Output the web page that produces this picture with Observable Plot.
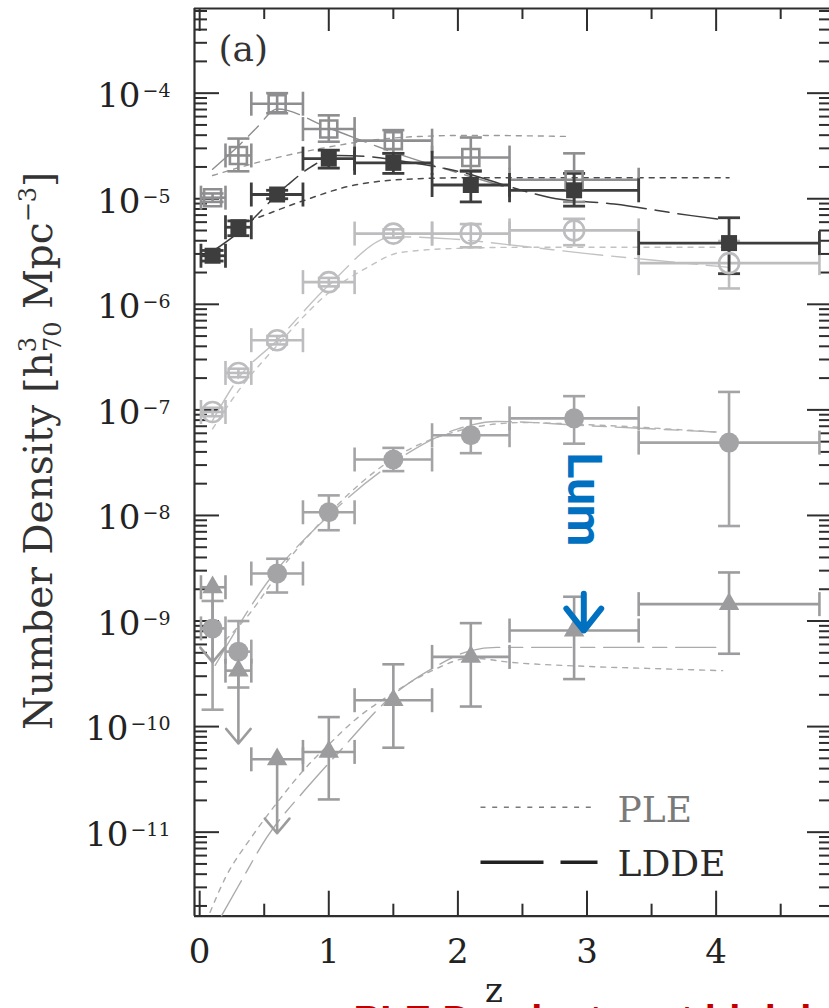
<!DOCTYPE html>
<html><head><meta charset="utf-8">
<script src="https://cdn.jsdelivr.net/npm/d3@7"></script>
<script src="https://cdn.jsdelivr.net/npm/@observablehq/plot@0.6"></script>
<style>
html,body{margin:0;padding:0;background:#fff;overflow:hidden;}
</style></head><body><div id="chart"></div>
<script>
// ===== DATA (y values stored as log10 of number density, h70^3 Mpc^-3) =====
const zCenters = [0.1, 0.3, 0.6, 1.0, 1.5, 2.1, 2.9, 4.1];
const zBinLo   = [0.01, 0.2, 0.4, 0.8, 1.2, 1.8, 2.4, 3.4];
const zBinHi   = [0.2, 0.4, 0.8, 1.2, 1.8, 2.4, 3.4, 4.8];

// dark filled squares (highest luminosity bin)
const darkSq   = [-5.54, -5.27, -4.96, -4.62, -4.66, -4.87, -4.92, -5.42];
const darkSqHi = [-5.49, -5.21, -4.92, -4.54, -4.57, -4.74, -4.76, -5.18];
const darkSqLo = [-5.59, -5.35, -5.00, -4.71, -4.76, -5.03, -5.07, -5.71];
// grey open squares
const openSq   = [-4.99, -4.59, -4.10, -4.34, -4.45, -4.61, -4.82];
const openSqHi = [-4.95, -4.43, -4.00, -4.21, -4.35, -4.42, -4.57];
const openSqLo = [-5.03, -4.74, -4.19, -4.46, -4.57, -4.73, -5.03];
// light open circles
const openCirc   = [-7.02, -6.65, -6.34, -5.79, -5.33, -5.33, -5.30, -5.61];
const openCircHi = [-6.98, -6.61, -6.30, -5.75, -5.29, -5.24, -5.19, -5.40];
const openCircLo = [-7.06, -6.69, -6.38, -5.83, -5.37, -5.46, -5.44, -5.85];
// grey filled circles
const fillCirc   = [-9.07, -9.29, -8.55, -7.97, -7.47, -7.24, -7.08, -7.31];
const fillCircHi = [-8.81, -9.00, -8.41, -7.81, -7.36, -7.08, -6.87, -6.83];
const fillCircLo = [-9.84, -9.63, -8.73, -8.14, -7.58, -7.41, -7.32, -8.10];
// grey filled triangles (first three are upper limits)
const tri   = [-8.68, -9.47, -10.31, -10.24, -9.75, -9.34, -9.09, -8.84];
const triHi = [null, null, null, -9.91, -9.41, -9.02, -8.77, -8.54];
const triLo = [null, null, null, -10.69, -10.20, -9.81, -9.55, -9.31];
const triLimitTip = [-9.39, -10.16, -11.01];

// model curves: PLE (dotted) and LDDE (long dashed)
const darkPleZ = [0.3, 0.45, 0.8, 1.2, 1.7, 2.1, 3.0, 4.1];
const darkPle  = [-5.25, -5.18, -5.02, -4.87, -4.81, -4.80, -4.80, -4.80];
const darkLddeZ = [0.11, 0.29, 0.68, 0.86, 1.07, 1.3, 1.55, 1.8, 2.07, 2.41, 2.72, 3.21, 3.81, 4.07];
const darkLdde  = [-5.49, -5.33, -4.87, -4.70, -4.59, -4.60, -4.64, -4.69, -4.76, -4.89, -4.99, -5.05, -5.16, -5.20];
const sqPleZ = [0.1, 0.5, 1.0, 1.3, 1.7, 2.1, 2.85];
const sqPle  = [-4.78, -4.64, -4.51, -4.45, -4.41, -4.40, -4.41];
const sqLddeZ = [0.1, 0.3, 0.44, 0.6, 1.0, 1.5, 2.07, 2.4];
const sqLdde  = [-4.72, -4.50, -4.33, -4.15, -4.33, -4.56, -4.78, -4.90];
const ocPleZ = [0.1, 0.3, 0.6, 1.0, 1.3, 1.55, 2.0, 2.5, 3.0, 4.05];
const ocPle  = [-7.18, -6.82, -6.39, -5.89, -5.65, -5.51, -5.47, -5.46, -5.46, -5.46];
const ocLddeZ = [0.1, 0.3, 0.6, 1.0, 1.5, 1.94, 2.5, 3.0, 3.5, 4.1];
const ocLdde  = [-7.10, -6.70, -6.34, -5.82, -5.36, -5.38, -5.45, -5.52, -5.58, -5.65];
const fcPleZ = [0.2, 0.36, 0.68, 1.01, 1.5, 2.0, 2.5, 3.0, 4.0];
const fcPle  = [-9.18, -8.97, -8.43, -7.97, -7.46, -7.20, -7.12, -7.14, -7.21];
const fcLddeZ = [0.12, 0.52, 1.0, 1.5, 2.0, 2.3, 3.0, 4.0];
const fcLdde  = [-9.42, -8.64, -8.00, -7.50, -7.18, -7.11, -7.15, -7.21];
const triPleZ = [0.08, 0.2, 0.4, 0.6, 0.8, 1.0, 1.2, 1.5, 1.8, 2.1, 2.4, 3.0, 3.5, 4.05];
const triPle  = [-11.76, -11.43, -11.05, -10.72, -10.42, -10.17, -9.94, -9.68, -9.47, -9.35, -9.39, -9.43, -9.45, -9.47];
const triLddeZ = [0.17, 0.3, 0.52, 0.83, 1.11, 1.48, 1.8, 2.1, 2.3, 3.0, 4.0];
const triLdde  = [-11.79, -11.51, -11.05, -10.58, -10.20, -9.72, -9.45, -9.28, -9.25, -9.25, -9.25];

// axis ticks
const xMajor = [0, 1, 2, 3, 4];
const xMinor = [0.5, 1.5, 2.5, 3.5, 4.5];
const yDecades = [-11, -10, -9, -8, -7, -6, -5, -4];
const xDomain = [-0.04, 4.878];
const yLogDomain = [-11.796, -3.198];

// annotation
const lumArrow = [{z: 2.975, from: -8.24, to: -9.09}];
const redNote = "PLE Dominates at high luminosity";

// ===== BUILD =====
const W = 829, H = 1008, ML = 194, MR = 0, MT = 8, MB = 92.3;
const PW = W - ML - MR, PH = H - MT - MB;
const yDomain = yLogDomain.map(v => 10 ** v);
const yMajor = yDecades.map(d => 10 ** d);
const yMinor = [];
for (let d = -12; d <= -4; d++) for (let k = 2; k <= 9; k++) {
  const v = k * 10 ** d; if (v > yDomain[0] && v < yDomain[1]) yMinor.push(v);
}

const vcap = {draw(ctx, size){ const h = Math.sqrt(size); ctx.moveTo(0, -h/2); ctx.lineTo(0, h/2); }};
const hcap = {draw(ctx, size){ const w = Math.sqrt(size); ctx.moveTo(-w/2, 0); ctx.lineTo(w/2, 0); }};
const hline = {draw(ctx, size){ const w = Math.sqrt(size); ctx.moveTo(-w/2, 0); ctx.lineTo(w/2, 0); }};
const rFor = px => px / Math.sqrt(Math.PI);

function rows(vals, hi, lo) {
  return vals.map((v, i) => ({
    z: zCenters[i], xlo: zBinLo[i], xhi: zBinHi[i], v: 10 ** v,
    hi: hi[i] == null ? null : 10 ** hi[i], lo: lo[i] == null ? null : 10 ** lo[i]
  }));
}
function curve(zs, vs) { return zs.map((z, i) => ({z, v: 10 ** vs[i]})); }

const series = [
  {data: rows(openSq, openSqHi, openSqLo), color: "#8e8e90", symbol: "square", r: rFor(17), fill: "none", sw: 2.6},
  {data: rows(openCirc, openCircHi, openCircLo), color: "#bdbdbf", symbol: "circle", r: 10, fill: "none", sw: 2.6},
  {data: rows(fillCirc, fillCircHi, fillCircLo), color: "#a4a4a6", symbol: "circle", r: 10, fill: "#a4a4a6", sw: 2.6},
  {data: rows(tri, triHi, triLo), color: "#9c9c9e", symbol: "triangle", r: 7.6, fill: "#9c9c9e", sw: 2.6},
  {data: rows(darkSq, darkSqHi, darkSqLo), color: "#3d3d3d", symbol: "square", r: rFor(16), fill: "#3d3d3d", sw: 2.8}
];

const PLE_DASH = "5,6";
const LDDE_DASH = "40,9,14,9";
const curves = [
  {d: curve(sqPleZ, sqPle), c: "#9a9a9a", dash: PLE_DASH, w: 1.4},
  {d: curve(sqLddeZ, sqLdde), c: "#8e8e8e", dash: LDDE_DASH, w: 1.4},
  {d: curve(darkPleZ, darkPle), c: "#4a4a4a", dash: PLE_DASH, w: 1.5},
  {d: curve(darkLddeZ, darkLdde), c: "#3d3d3d", dash: LDDE_DASH, w: 1.5},
  {d: curve(ocPleZ, ocPle), c: "#c2c2c2", dash: PLE_DASH, w: 1.4},
  {d: curve(ocLddeZ, ocLdde), c: "#c2c2c2", dash: LDDE_DASH, w: 1.4},
  {d: curve(fcPleZ, fcPle), c: "#b2b2b2", dash: PLE_DASH, w: 1.4},
  {d: curve(fcLddeZ, fcLdde), c: "#b2b2b2", dash: LDDE_DASH, w: 1.4},
  {d: curve(triPleZ, triPle), c: "#ababab", dash: PLE_DASH, w: 1.4},
  {d: curve(triLddeZ, triLdde), c: "#ababab", dash: LDDE_DASH, w: 1.4}
];

const marks = [];
// frame (left, top, bottom)
const AX = "#2e2e2e";
marks.push(Plot.ruleX([xDomain[0]], {stroke: AX, strokeWidth: 2.2}));
marks.push(Plot.ruleY([yDomain[0], yDomain[1]], {stroke: AX, strokeWidth: 2.2}));
// inward ticks
marks.push(Plot.tickY(yMajor, {y: d => d, insetRight: PW - 25, stroke: AX, strokeWidth: 2}));
marks.push(Plot.tickY(yMinor, {y: d => d, insetRight: PW - 13, stroke: AX, strokeWidth: 2}));
marks.push(Plot.tickY(yMajor, {y: d => d, insetLeft: PW - 22, stroke: AX, strokeWidth: 2}));
marks.push(Plot.tickY(yMinor, {y: d => d, insetLeft: PW - 10, stroke: AX, strokeWidth: 2}));
marks.push(Plot.tickX(xMajor, {x: d => d, insetTop: PH - 25, stroke: AX, strokeWidth: 2}));
marks.push(Plot.tickX(xMinor, {x: d => d, insetTop: PH - 12, stroke: AX, strokeWidth: 2}));
marks.push(Plot.tickX(xMajor, {x: d => d, insetBottom: PH - 23, stroke: AX, strokeWidth: 2}));
marks.push(Plot.tickX(xMinor, {x: d => d, insetBottom: PH - 11, stroke: AX, strokeWidth: 2}));
// axes labels
marks.push(Plot.axisY({ticks: yMajor, anchor: "left", tickSize: 0, tickPadding: 24, label: null,
  tickFormat: d => "10^" + Math.round(Math.log10(d)), fontSize: 34, fontFamily: "DejaVu Serif", fill: "#222", dy: 3}));
marks.push(Plot.axisX({ticks: xMajor, anchor: "bottom", tickSize: 0, tickPadding: 23, label: null,
  tickFormat: d => String(d), fontSize: 34, fontFamily: "DejaVu Serif", fill: "#222"}));

// model curves
for (const c of curves) marks.push(Plot.line(c.d, {x: "z", y: "v", stroke: c.c, strokeWidth: c.w, strokeDasharray: c.dash, curve: "monotone-x"}));

// error bars
for (const s of series) {
  const withY = s.data.filter(d => d.hi != null);
  const o = {stroke: s.color, strokeWidth: s.sw};
  marks.push(Plot.ruleY(s.data, {y: "v", x1: "xlo", x2: "xhi", ...o}));
  marks.push(Plot.ruleX(withY, {x: "z", y1: "lo", y2: "hi", ...o}));
  marks.push(Plot.dot(s.data, {x: "xlo", y: "v", symbol: vcap, r: rFor(24), fill: "none", ...o}));
  marks.push(Plot.dot(s.data, {x: "xhi", y: "v", symbol: vcap, r: rFor(24), fill: "none", ...o}));
  marks.push(Plot.dot(withY, {x: "z", y: "hi", symbol: hcap, r: rFor(22), fill: "none", ...o}));
  marks.push(Plot.dot(withY, {x: "z", y: "lo", symbol: hcap, r: rFor(22), fill: "none", ...o}));
}
// upper-limit arrows on triangles
const triLimits = triLimitTip.map((t, i) => ({z: zCenters[i], from: 10 ** tri[i], to: 10 ** t}));
marks.push(Plot.arrow(triLimits, {x1: "z", x2: "z", y1: "from", y2: "to", stroke: "#9c9c9e", strokeWidth: 2.6, headAngle: 80, headLength: 11}));
// markers
for (const s of series) {
  marks.push(Plot.dot(s.data, {x: "z", y: "v", symbol: s.symbol, r: s.r, fill: s.fill,
    stroke: s.fill === "none" ? s.color : "none", strokeWidth: s.fill === "none" ? 2.6 : 0}));
}

// panel label
marks.push(Plot.text(["(a)"], {frameAnchor: "top-left", dx: 24, dy: 52, text: d => d, textAnchor: "start", lineAnchor: "bottom",
  fontSize: 36, fontFamily: "DejaVu Serif", fill: "#333"}));
// legend
marks.push(Plot.dot(["PLE"], {frameAnchor: "top-left", dx: 344.5, dy: 798.7, symbol: hline, r: rFor(117), fill: "none",
  stroke: "#7a7a7a", strokeWidth: 1.5, strokeDasharray: "5,6.7"}));
marks.push(Plot.dot(["LDDE"], {frameAnchor: "top-left", dx: 344.5, dy: 853.7, symbol: hline, r: rFor(117), fill: "none",
  stroke: "#222", strokeWidth: 3.5, strokeDasharray: "63,17,37,200"}));
marks.push(Plot.text(["PLE"], {frameAnchor: "top-left", dx: 423, dy: 813, text: d => d, textAnchor: "start", lineAnchor: "bottom",
  fontSize: 36, fontFamily: "DejaVu Serif", fill: "#7a7a7a"}));
marks.push(Plot.text(["LDDE"], {frameAnchor: "top-left", dx: 423, dy: 867, text: d => d, textAnchor: "start", lineAnchor: "bottom",
  fontSize: 36, fontFamily: "DejaVu Serif", fill: "#2a2a2a"}));
// x label
marks.push(Plot.text(["z"], {frameAnchor: "bottom-left", dx: 299.5, dy: 86, text: d => d, textAnchor: "middle", lineAnchor: "bottom",
  fontSize: 34, fontFamily: "DejaVu Serif", fill: "#222"}));
// blue annotation
marks.push(Plot.text(["Lum"], {frameAnchor: "top-left", dx: 373, dy: 444, text: d => d, rotate: 90, textAnchor: "start", lineAnchor: "bottom",
  fontSize: 48, fontFamily: "Roboto", fontWeight: "bold", fill: "#0070c0"}));
marks.push(Plot.arrow(lumArrow, {x1: "z", x2: "z", y1: d => 10 ** d.from, y2: d => 10 ** d.to, stroke: "#0070c0", strokeWidth: 6,
  headAngle: 77, headLength: 7, insetStart: 53}));
// red caption (cut off at bottom)
marks.push(Plot.text([redNote], {frameAnchor: "bottom-left", dx: 159, dy: 89, text: d => d, textAnchor: "start", lineAnchor: "top",
  fontSize: 40, fontFamily: "Liberation Sans", fontWeight: "bold", fill: "#c00000"}));

const svg = Plot.plot({
  width: W, height: H, marginLeft: ML, marginRight: MR, marginTop: MT, marginBottom: MB,
  x: {domain: xDomain},
  y: {type: "log", domain: yDomain},
  style: {fontFamily: "DejaVu Serif", background: "white", overflow: "visible"},
  marks
});

// superscript exponents on y tick labels
d3.select(svg).selectAll('g[aria-label="y-axis tick label"] text').each(function () {
  const t = this.textContent;
  const m = t.match(/^10\^(-?\d+)$/);
  if (!m) return;
  const sel = d3.select(this);
  sel.text("");
  sel.append("tspan").text("10");
  sel.append("tspan").attr("font-size", 19).attr("dx", 2).attr("dy", -10).text(m[1].replace("-", "\u2212"));
});

// y axis title with stacked super/subscripts
const yl = d3.select(svg).append("text")
  .attr("transform", "translate(52,730) rotate(-90)")
  .attr("text-anchor", "start")
  .attr("font-family", "DejaVu Serif").attr("font-size", 39).attr("fill", "#333");
yl.append("tspan").text("Number Density [h");
yl.append("tspan").attr("font-size", 24).attr("dy", -16).text("3");
yl.append("tspan").attr("font-size", 24).attr("dx", -15).attr("dy", 25).text("70");
yl.append("tspan").attr("dy", -9).text(" Mpc");
yl.append("tspan").attr("font-size", 24).attr("dy", -16).text("\u22123");
yl.append("tspan").attr("dy", 16).text("]");

document.getElementById("chart").appendChild(svg);
</script>
</body></html>
